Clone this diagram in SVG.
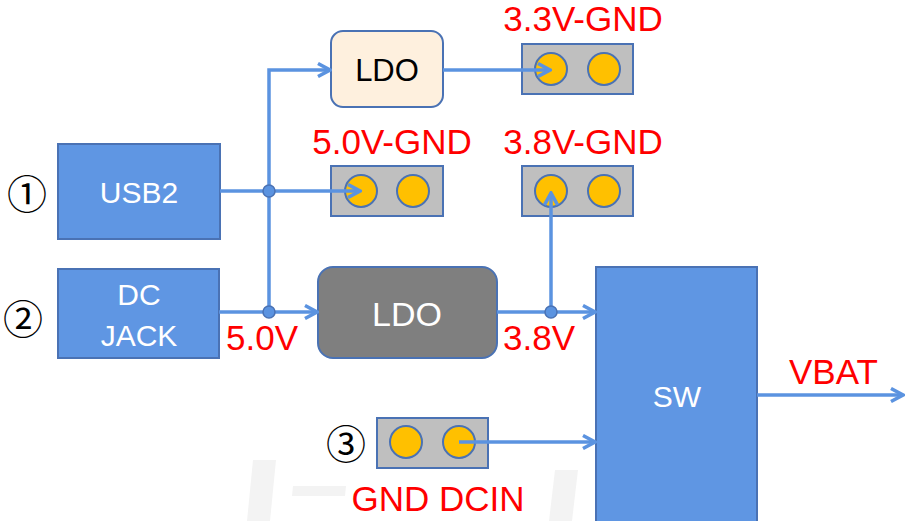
<svg xmlns="http://www.w3.org/2000/svg" width="905" height="521" viewBox="0 0 905 521">
<style>
.blk{fill:#5f96e3;stroke:#4a72b4;stroke-width:2}
.hdr{fill:#bfbfbf;stroke:#4a72b4;stroke-width:2}
.pin{fill:#ffc000;stroke:#4a72b4;stroke-width:2}
.wire{fill:none;stroke:#5b93e0;stroke-width:3.5}
.dot{fill:#5b93e0;stroke:#4a72b4;stroke-width:1.5}
.wm{fill:#f3f3f3}
text{font-family:"Liberation Sans",Arial,sans-serif}
.red{fill:#ff0000;font-size:35px}
.wt{fill:#ffffff;font-size:30px;text-anchor:middle}
.num{font-family:"Noto Sans CJK SC","DejaVu Sans",sans-serif;font-size:40px;fill:#000;text-anchor:middle}
</style>
<defs>
<marker id="arr" viewBox="0 0 16 16" markerWidth="16" markerHeight="16" refX="14" refY="8" orient="auto" markerUnits="userSpaceOnUse">
<path d="M2,1.5 L14,8 L2,14.5" fill="none" stroke="#5b93e0" stroke-width="3.5"/>
</marker>
</defs>
<g id="watermark">
<polygon class="wm" points="253,460 276,460 270,521 247,521"/>
<polygon class="wm" points="293,486 346,486 345,496 292,496"/>
<polygon class="wm" points="555,470 578,470 572,521 549,521"/>
</g>
<g id="n1"><text class="num" x="27" y="209">①</text></g>
<g id="n2"><text class="num" x="23" y="334">②</text></g>
<g id="n3"><text class="num" x="346" y="459">③</text></g>
<g id="usb2"><rect class="blk" x="58" y="144" width="162" height="95"/><text class="wt" x="139" y="203">USB2</text></g>
<g id="dcjack"><rect class="blk" x="58" y="269" width="161" height="89"/><text class="wt" x="139" y="305">DC</text><text class="wt" x="139" y="346">JACK</text></g>
<g id="ldo1"><rect x="331" y="31" width="112" height="76" rx="12" fill="#fef0de" stroke="#4a72b4" stroke-width="2"/><text x="387" y="81" font-size="31" text-anchor="middle" fill="#000">LDO</text></g>
<g id="ldo2"><rect x="318" y="267" width="179" height="91" rx="15" fill="#7f7f7f" stroke="#4a72b4" stroke-width="2"/><text x="407" y="326" font-size="34" text-anchor="middle" fill="#fff">LDO</text></g>
<g id="sw"><rect class="blk" x="596" y="267" width="161" height="260"/><text class="wt" x="677" y="407">SW</text></g>
<g id="h33"><text class="red" x="583" y="31" text-anchor="middle">3.3V-GND</text><rect class="hdr" x="522" y="44" width="111" height="50"/><circle class="pin" cx="551" cy="69" r="16"/><circle class="pin" cx="604" cy="69" r="16"/></g>
<g id="h50"><text class="red" x="392" y="154" text-anchor="middle">5.0V-GND</text><rect class="hdr" x="331" y="166" width="112" height="50"/><circle class="pin" cx="361" cy="191" r="16"/><circle class="pin" cx="413" cy="191" r="16"/></g>
<g id="h38"><text class="red" x="583" y="154" text-anchor="middle">3.8V-GND</text><rect class="hdr" x="522" y="166" width="111" height="50"/><circle class="pin" cx="551" cy="191" r="16"/><circle class="pin" cx="604" cy="191" r="16"/></g>
<g id="hdcin"><rect class="hdr" x="377" y="418" width="111" height="50"/><circle class="pin" cx="406" cy="442" r="16"/><circle class="pin" cx="459" cy="442" r="16"/><text class="red" x="438" y="511" text-anchor="middle">GND DCIN</text></g>
<g id="labels">
<text class="red" x="226" y="350" font-size="34">5.0V</text>
<text class="red" x="503" y="350" font-size="34">3.8V</text>
<text class="red" x="789" y="384" font-size="34">VBAT</text>
</g>
<g id="connectors">
<path class="wire" d="M220,191 H360" marker-end="url(#arr)"/>
<path class="wire" d="M269,312 V70 H330" marker-end="url(#arr)"/>
<path class="wire" d="M219,312 H317" marker-end="url(#arr)"/>
<path class="wire" d="M443,70 H550" marker-end="url(#arr)"/>
<path class="wire" d="M497,312 H595" marker-end="url(#arr)"/>
<path class="wire" d="M551,312 V193" marker-end="url(#arr)"/>
<path class="wire" d="M459,442 H595" marker-end="url(#arr)"/>
<path class="wire" d="M757,395 H903" marker-end="url(#arr)"/>
<circle class="dot" cx="269" cy="191" r="6"/>
<circle class="dot" cx="269" cy="312" r="6"/>
<circle class="dot" cx="551" cy="312" r="6"/>
</g>
</svg>
